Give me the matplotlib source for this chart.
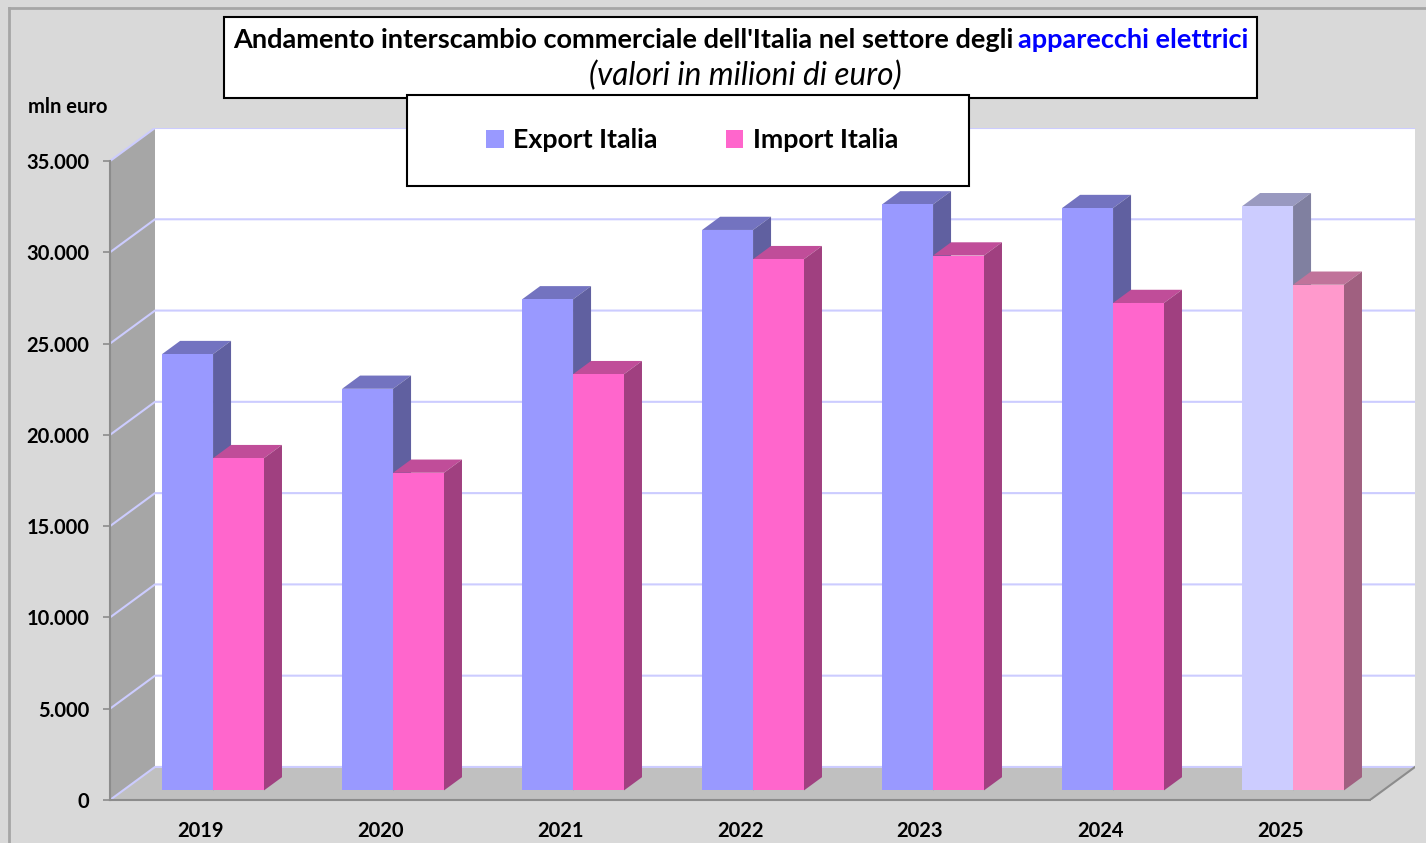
import matplotlib
matplotlib.use('Agg')
import matplotlib.pyplot as plt
from matplotlib.patches import Polygon, Rectangle
from matplotlib.lines import Line2D
from matplotlib.ticker import FuncFormatter

# dati (milioni di euro)
anni = ['2019', '2020', '2021', '2022', '2023', '2024', '2025']
export_italia = [23900, 22000, 26900, 30700, 32100, 31900, 32000]
import_italia = [18200, 17400, 22800, 29100, 29300, 26700, 27700]
tick_valori = [0, 5000, 10000, 15000, 20000, 25000, 30000, 35000]

plt.rcParams['font.family'] = ['Lato', 'DejaVu Sans']

W, H = 1426, 843
fig = plt.figure(figsize=(W / 100, H / 100), dpi=100, facecolor='#d9d9d9')
ax = fig.add_axes([110 / W, 43 / H, 1305 / W, 672 / H])
ax.set_facecolor('none')

n = len(anni)
top_v = tick_valori[-1]
# profondita' finta 3D in unita' dei dati
DX, DY = 0.25, 1810
f0, fd = 0.29, 0.40
w = 0.283
ax.set_xlim(-0.5, n - 0.5 + DX)
ax.set_ylim(0, top_v + DY)

# pareti e pavimento
ax.add_patch(Polygon([(-0.5 + DX, DY), (n - 0.5 + DX, DY), (n - 0.5 + DX, top_v + DY), (-0.5 + DX, top_v + DY)],
                     fc='white', ec='none', zorder=0))
ax.add_patch(Polygon([(-0.5, 0), (-0.5 + DX, DY), (-0.5 + DX, top_v + DY), (-0.5, top_v)],
                     fc='#a6a6a6', ec='none', zorder=0))
ax.add_patch(Polygon([(-0.5, 0), (n - 0.5, 0), (n - 0.5 + DX, DY), (-0.5 + DX, DY)],
                     fc='#c0c0c0', ec='none', zorder=0))
for v in tick_valori:
    ax.plot([-0.5, -0.5 + DX, n - 0.5 + DX], [v, v + DY, v + DY], color='#ccccff', lw=1.5, zorder=1)
ax.plot([n - 0.5, n - 0.5 + DX], [0, DY], color='#8c8c8c', lw=1.5, zorder=1)

# colori: fronte, sopra, lato (ultimo anno piu' chiaro)
col_exp = [('#9999ff', '#7373c0', '#6060a0')] * (n - 1) + [('#ccccff', '#9999c0', '#8080a0')]
col_imp = [('#ff66cc', '#c04d99', '#a04080')] * (n - 1) + [('#ff99cc', '#c0739a', '#a06080')]


def facce3d(x0, val, sopra, lato, z):
    b0 = f0 * DY
    x1 = x0 + w
    sx, sy = fd * DX, fd * DY
    cima = b0 + val
    ax.add_patch(Polygon([(x0, cima), (x1, cima), (x1 + sx, cima + sy), (x0 + sx, cima + sy)],
                         fc=sopra, ec='none', zorder=z))
    ax.add_patch(Polygon([(x1, b0), (x1 + sx, b0 + sy), (x1 + sx, cima + sy), (x1, cima)],
                         fc=lato, ec='none', zorder=z))


x_exp = [i + f0 * DX - w for i in range(n)]
x_imp = [i + f0 * DX for i in range(n)]
for i in range(n):
    facce3d(x_exp[i], export_italia[i], col_exp[i][1], col_exp[i][2], 2)
    facce3d(x_imp[i], import_italia[i], col_imp[i][1], col_imp[i][2], 3)
b1 = ax.bar(x_exp, export_italia, width=w, bottom=f0 * DY, align='edge',
            color=[c[0] for c in col_exp], zorder=2, label='Export Italia')
b2 = ax.bar(x_imp, import_italia, width=w, bottom=f0 * DY, align='edge',
            color=[c[0] for c in col_imp], zorder=3, label='Import Italia')

# assi
ax.set_xticks(range(n), anni)
ax.set_yticks(tick_valori)
ax.yaxis.set_major_formatter(FuncFormatter(lambda v, p: f'{v:,.0f}'.replace(',', '.')))
ax.tick_params(axis='x', length=0, pad=15, labelsize=14.5)
ax.tick_params(axis='y', length=5, width=1.2, color='#8c8c8c', pad=10, labelsize=14.5)
for lab in ax.get_xticklabels() + ax.get_yticklabels():
    lab.set_fontweight('bold')
for s in ['top', 'right']:
    ax.spines[s].set_visible(False)
ax.spines['left'].set_bounds(0, top_v)
ax.spines['bottom'].set_bounds(-0.5, n - 0.5)
for s in ['left', 'bottom']:
    ax.spines[s].set_color('#8c8c8c')
    ax.spines[s].set_linewidth(1.5)

fig.text(28 / W, 1 - 107 / H, 'mln euro', fontsize=14.5, fontweight='bold', va='center')

# bordo esterno
fig.add_artist(Line2D([9 / W, 1], [1 - 8 / H, 1 - 8 / H], color='#a6a6a6', lw=2, transform=fig.transFigure))
fig.add_artist(Line2D([9 / W, 9 / W], [0, 1 - 8 / H], color='#a6a6a6', lw=2, transform=fig.transFigure))

# riquadro titolo
fig.add_artist(Rectangle((224 / W, 1 - 98 / H), 1033 / W, 81 / H, fc='white', ec='black', lw=1.5,
                         transform=fig.transFigure, zorder=5))
t1 = fig.text(0, 1 - 40 / H, "Andamento interscambio commerciale dell'Italia nel settore degli",
              fontsize=19.5, fontweight='bold', va='center', zorder=6)
t2 = fig.text(0, 1 - 40 / H, 'apparecchi elettrici', fontsize=19.5, fontweight='bold',
              color='#0000ff', va='center', zorder=6)
fig.text(745 / W, 1 - 76 / H, '(valori in milioni di euro)', fontsize=22.8, style='italic',
         ha='center', va='center', zorder=6)

# riquadro legenda
fig.add_artist(Rectangle((407 / W, 1 - 186 / H), 562 / W, 91 / H, fc='white', ec='black', lw=1.5,
                         transform=fig.transFigure, zorder=6))
leg = fig.legend(handles=[b1, b2], loc='center', bbox_to_anchor=(692 / W, 1 - 140 / H), ncol=2,
                 frameon=False, handlelength=0.66, handleheight=0.66, handletextpad=0.35,
                 columnspacing=2.55, prop={'weight': 'bold', 'size': 19.3})
leg.set_zorder(7)

fig.canvas.draw()
r = fig.canvas.get_renderer()
w1 = t1.get_window_extent(r).width
w2 = t2.get_window_extent(r).width
gap = 5
x0 = 741 - (w1 + gap + w2) / 2
t1.set_x(x0 / W)
t2.set_x((x0 + w1 + gap) / W)

fig.savefig('out.png', dpi=100, facecolor=fig.get_facecolor())
